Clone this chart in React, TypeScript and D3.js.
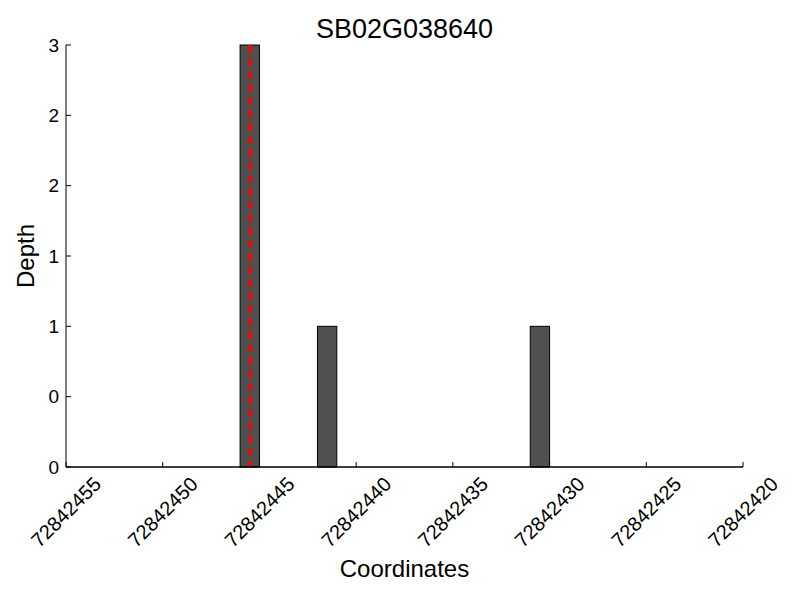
import React from "react";
import * as d3 from "d3";

const title = "SB02G038640";
const xLabel = "Coordinates";
const yLabel = "Depth";

// bar start coordinates (each bar spans one base: start .. start+1)
const positions = [72842445, 72842441, 72842430];
const depths = [3, 1, 1];
const markerPosition = 72842445.5;

const xDomain = [72842455, 72842420];
const xTicks = [72842455, 72842450, 72842445, 72842440, 72842435, 72842430, 72842425, 72842420];
const yDomain = [0, 3];
const yTicks = [0, 0.5, 1, 1.5, 2, 2.5, 3];
const yTickLabels = ["0", "0", "1", "1", "2", "2", "3"];

const W = 800;
const H = 600;
const margin = { left: 66, right: 57, top: 45, bottom: 133 };
const FONT = "'Liberation Sans', Arial, Helvetica, sans-serif";

export default function App() {
  const x = d3.scaleLinear().domain(xDomain).range([margin.left, W - margin.right]);
  const y = d3.scaleLinear().domain(yDomain).range([H - margin.bottom, margin.top]);
  const x0 = margin.left;
  const x1 = W - margin.right;
  const y0 = H - margin.bottom;
  const yTop = margin.top;
  const cx = (x0 + x1) / 2;
  const cy = (y0 + yTop) / 2;

  return (
    <svg
      width={W}
      height={H}
      style={{ position: "absolute", left: 0, top: 0, background: "#fff" }}
      fontFamily={FONT}
    >
      <rect x={0} y={0} width={W} height={H} fill="#fff" />
      {positions.map((p, i) => {
        const xa = x(p + 1);
        const xb = x(p);
        return (
          <rect
            key={i}
            x={Math.min(xa, xb)}
            y={y(depths[i])}
            width={Math.abs(xb - xa)}
            height={y(0) - y(depths[i])}
            fill="#505050"
            stroke="#000"
            strokeWidth={1}
          />
        );
      })}
      <line
        x1={x(markerPosition)}
        x2={x(markerPosition)}
        y1={y(yDomain[1])}
        y2={y(0)}
        stroke="#ff0000"
        strokeWidth={3}
        strokeDasharray="8,5"
      />
      {/* axes */}
      <line x1={x0} x2={x0} y1={yTop} y2={y0} stroke="#000" strokeWidth={1} />
      <line x1={x0} x2={x1} y1={y0} y2={y0} stroke="#000" strokeWidth={1.5} />
      {yTicks.map((t, i) => (
        <g key={"y" + i}>
          <line x1={x0} x2={x0 + 5} y1={y(t)} y2={y(t)} stroke="#000" strokeWidth={1} />
          <text
            x={x0 - 7}
            y={y(t)}
            textAnchor="end"
            dominantBaseline="central"
            fontSize={19}
            fill="#000"
          >
            {yTickLabels[i]}
          </text>
        </g>
      ))}
      {xTicks.map((t, i) => (
        <g key={"x" + i}>
          <line x1={x(t)} x2={x(t)} y1={y0} y2={y0 - 5} stroke="#000" strokeWidth={1} />
          <text
            transform={`translate(${x(t)},${y0 + 45}) rotate(-45)`}
            textAnchor="middle"
            dominantBaseline="central"
            fontSize={20}
            fill="#000"
          >
            {t}
          </text>
        </g>
      ))}
      <text x={cx} y={38} textAnchor="middle" fontSize={27} fill="#000">
        {title}
      </text>
      <text x={cx} y={577} textAnchor="middle" fontSize={24} fill="#000">
        {xLabel}
      </text>
      <text
        transform={`translate(34,${cy}) rotate(-90)`}
        textAnchor="middle"
        fontSize={24}
        fill="#000"
      >
        {yLabel}
      </text>
    </svg>
  );
}
